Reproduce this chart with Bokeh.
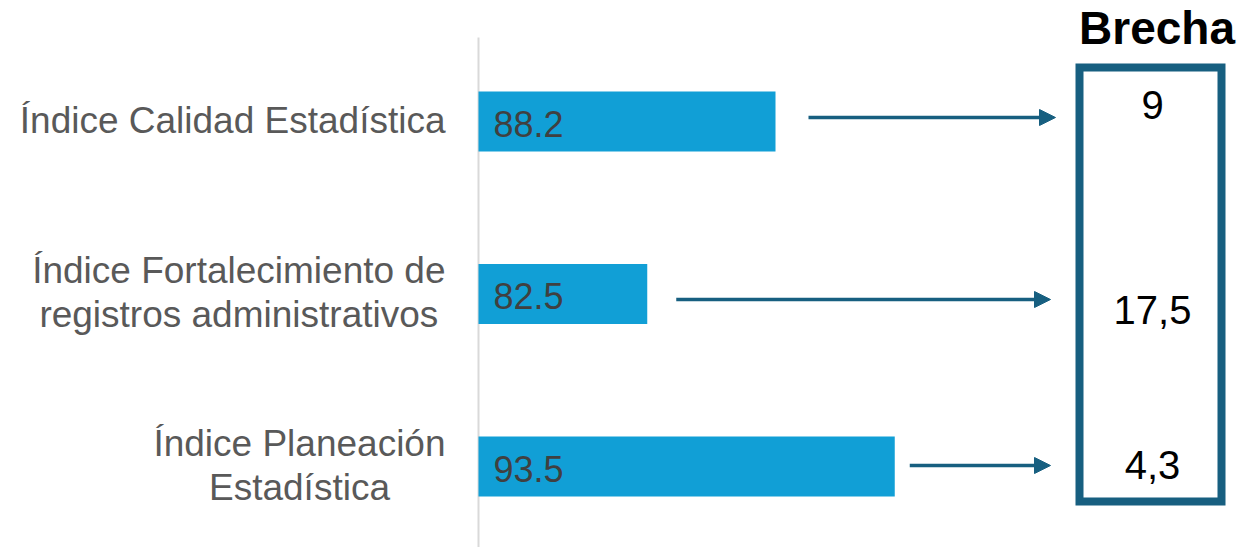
from bokeh.plotting import figure
from bokeh.models import Range1d, Arrow, NormalHead
from bokeh.embed import file_html
from bokeh.resources import INLINE
from bokeh.core.properties import value

# ---------------- data ----------------
categories = [
    ["Índice Calidad Estadística"],
    ["Índice Fortalecimiento de", "registros administrativos"],
    ["Índice Planeación", "Estadística"],
]
scores = [88.2, 82.5, 93.5]
score_labels = ["88.2", "82.5", "93.5"]
gaps = ["9", "17,5", "4,3"]
gap_title = "Brecha"
axis_start = 75
positions = [2, 1, 0]

# ---------------- style / layout ----------------
W, H = 1241, 547
PXU = 22.5          # px per value unit
BAND = 172.5        # px per category
AX_PX = 478         # axis x in px
Y0_PX = 466         # px of category position 0
FONT = "Liberation Sans"
BAR_C = "#119FD6"
DARK = "#175F80"
LABEL_C = "#595959"
VAL_C = "#404040"
BL = 0.39           # baseline correction factor (fraction of font size)

x0 = axis_start - AX_PX / PXU
def dx(fx):
    return x0 + fx / PXU
def dy(fy):
    return (Y0_PX - fy) / BAND
def cy_px(pos):
    return Y0_PX - pos * BAND
def base(fy, fs):
    # data y that puts the alphabetic baseline at screen px fy
    return dy(fy - BL * fs)

AW = {' ': .278, 'a': .556, 'b': .556, 'c': .5, 'd': .556, 'e': .556, 'f': .278,
      'g': .556, 'h': .556, 'i': .222, 'í': .278, 'j': .222, 'k': .5, 'l': .222,
      'm': .833, 'n': .556, 'o': .556, 'ó': .556, 'p': .556, 'r': .333, 's': .5,
      't': .278, 'u': .556, 'v': .5, 'w': .722, 'x': .5, 'y': .5, 'z': .5,
      'Í': .278, 'E': .667, 'F': .611, 'P': .667, 'C': .722}
def tw(s, fs):
    return sum(AW.get(ch, .556) for ch in s) * fs

p = figure(width=W, height=H, output_backend="svg", toolbar_location=None,
           x_range=Range1d(dx(0), dx(W)), y_range=Range1d(dy(H), dy(0)),
           min_border=0, min_border_left=0, min_border_right=0,
           min_border_top=0, min_border_bottom=0)
p.axis.visible = False
p.grid.visible = False
p.outline_line_color = None
p.background_fill_color = "white"
p.border_fill_color = "white"

# axis line
p.segment(x0=[axis_start], y0=[dy(37)], x1=[axis_start], y1=[dy(H)],
          line_color="#D9D9D9", line_width=2)

# bars
p.hbar(y=positions, left=axis_start, right=scores, height=60 / BAND,
       fill_color=BAR_C, line_color=None)

# bar value labels
VFS = 36
p.text(x=[dx(AX_PX + 15)] * 3,
       y=[base(cy_px(pos) + 16.5, VFS) for pos in positions],
       text=score_labels, text_font=value(FONT), text_font_size=value(f"{VFS}px"),
       text_color=VAL_C, text_align="left", text_baseline="alphabetic")

# category labels (lines centered within a right-aligned block)
LFS = 37
LH = 44
RIGHT_PX = 445
lx, ly, lt = [], [], []
for lines, pos in zip(categories, positions):
    maxw = max(tw(s, LFS) for s in lines)
    cx = RIGHT_PX - maxw / 2
    n = len(lines)
    for i, s in enumerate(lines):
        lx.append(dx(cx))
        ly.append(base(cy_px(pos) + 13 + (i - (n - 1) / 2) * LH, LFS))
        lt.append(s)
p.text(x=lx, y=ly, text=lt, text_font=value(FONT), text_font_size=value(f"{LFS}px"),
       text_color=LABEL_C, text_align="center", text_baseline="alphabetic")

# arrows
arrow_gap_px = [33, 29, 15]
arrow_end_px = [1055, 1050, 1050]
arrow_dy_px = [-4, 5.5, -1]
for sc, pos, g, e, o in zip(scores, positions, arrow_gap_px, arrow_end_px, arrow_dy_px):
    sx = AX_PX + (sc - axis_start) * PXU + g
    yy = dy(cy_px(pos) + o)
    p.add_layout(Arrow(end=NormalHead(size=16, fill_color=DARK, line_color=DARK, line_width=1),
                       x_start=dx(sx), y_start=yy, x_end=dx(e), y_end=yy,
                       line_color=DARK, line_width=3.5))

# box
p.quad(left=[dx(1079)], right=[dx(1221)], top=[dy(67)], bottom=[dy(501)],
       fill_color=None, line_color=DARK, line_width=8, line_join="miter")

# title of box
TFS = 46
p.text(x=[dx(1156.5)], y=[base(45, TFS)], text=[gap_title], text_font=value(FONT),
       text_font_size=value(f"{TFS}px"), text_font_style="bold", text_color="black",
       text_align="center", text_baseline="alphabetic")

# gap values
GFS = 40
gap_dy_px = [-1, 32, 14]
p.text(x=[dx(1152)] * 3, y=[base(cy_px(pos) + o, GFS) for pos, o in zip(positions, gap_dy_px)],
       text=gaps, text_font=value(FONT), text_font_size=value(f"{GFS}px"),
       text_color="black", text_align="center", text_baseline="alphabetic")

open("out.html", "w").write(file_html(p, INLINE))
